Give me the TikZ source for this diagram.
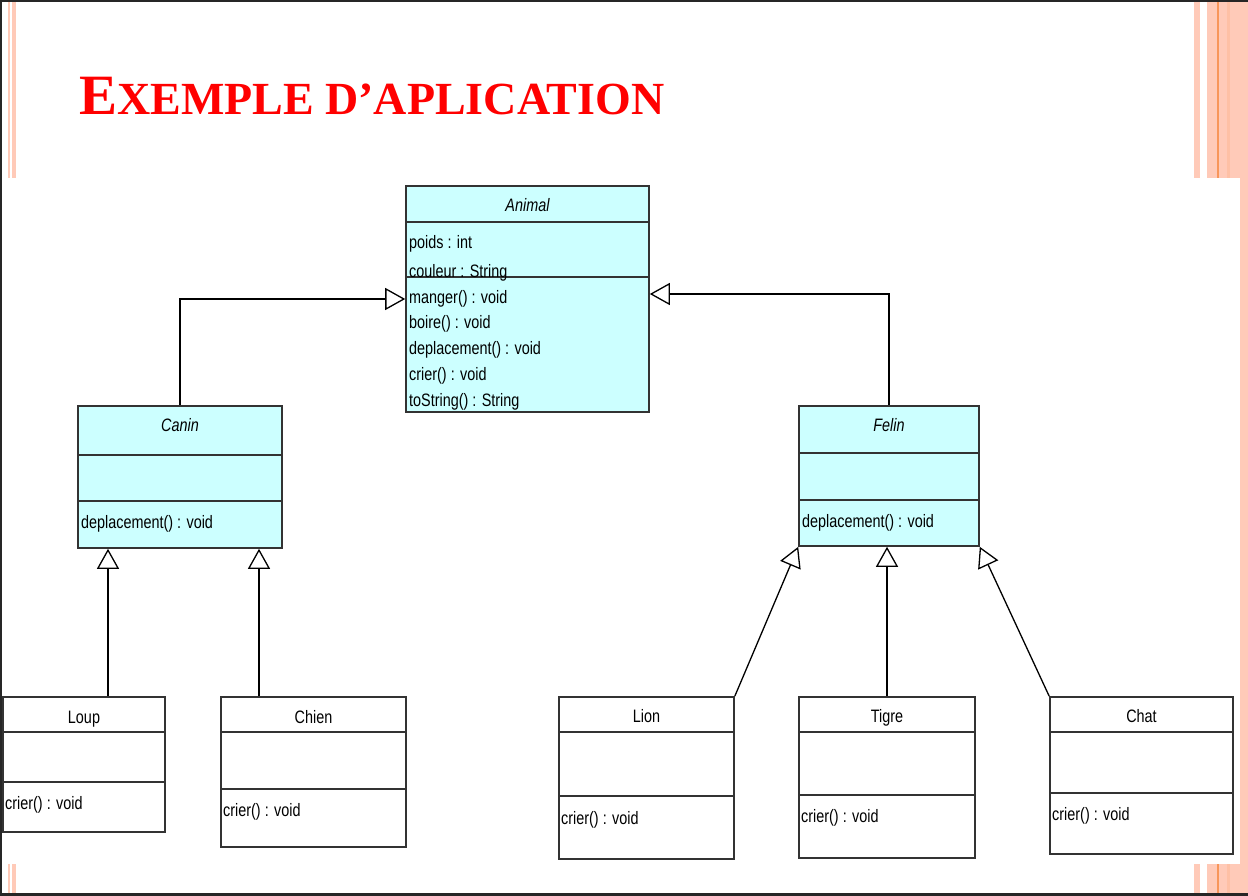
\documentclass[tikz,border=0pt]{standalone}
\usepackage{fontspec}
\setmainfont{Liberation Serif}
\newfontfamily\umlfont[FakeStretch=0.8]{Liberation Sans}
\usetikzlibrary{arrows.meta,positioning}
\definecolor{cyanUml}{RGB}{204,255,255}
\definecolor{roseDiapo}{RGB}{255,202,184}
\definecolor{orangeDiapo}{RGB}{248,150,90}
\definecolor{rougeTitre}{RGB}{255,0,0}

\begin{document}
\begin{tikzpicture}[x=1pt,y=-1pt,font=\umlfont\fontsize{18}{22}\selectfont,
  cls/.style={rectangle,draw=black!80,line width=1.6pt,fill=cyanUml,inner sep=0pt},
  clsw/.style={cls,fill=white},
  ttl/.style={anchor=base,inner sep=0pt},
  mem/.style={anchor=base west,inner sep=0pt},
  sep/.style={draw=black!80,line width=1.6pt},
  gen/.style={line width=1.3pt,-{Triangle[open,fill=white,length=20pt,width=22pt]}}]

  \useasboundingbox (0,0) rectangle (1248,896);

  % slide background
  \fill[black!85] (0,0) rectangle (1248,896);
  \fill[white] (2,2) rectangle (1248,893);
  \foreach \a/\b in {8/10,12/16,1194/1200,1207/1248}
    \fill[roseDiapo] (\a,2) rectangle (\b,893);
  \fill[roseDiapo!80!orangeDiapo] (1227,2) rectangle (1230,893);
  \fill[orangeDiapo] (1217,2) rectangle (1218.5,893);
  \fill[white] (2,178) rectangle (1240,864);

  \node[anchor=base west,inner sep=0pt,text=rougeTitre,font=\rmfamily\bfseries] (titre) at (79,115)
    {\fontsize{57}{60}\selectfont E\fontsize{46}{50}\selectfont XEMPLE D’APLICATION};

  % classes
  \node[cls,minimum width=243pt,minimum height=226pt] (animal) at (527.5,299) {};
  \node[cls,minimum width=204pt,minimum height=142pt] (canin)  at (180,477) {};
  \node[cls,minimum width=180pt,minimum height=140pt] (felin)  at (889,476) {};
  \node[clsw,minimum width=162pt,minimum height=135pt] (loup)  at (84,764.5) {};
  \node[clsw,minimum width=185pt,minimum height=150pt] (chien) at (313.5,772) {};
  \node[clsw,minimum width=175pt,minimum height=162pt] (lion)  at (646.5,778) {};
  \node[clsw,minimum width=176pt,minimum height=161pt] (tigre) at (887,777.5) {};
  \node[clsw,minimum width=183pt,minimum height=157pt] (chat)  at (1141.5,775.5) {};

  \foreach \n/\a/\b in {animal/37/92,canin/50/96,felin/48/95,loup/36/86,
                        chien/36/93,lion/36/100,tigre/36/99,chat/36/97}
    \draw[sep] ([yshift=-\a]\n.north west) -- ([yshift=-\a]\n.north east)
               ([yshift=-\b]\n.north west) -- ([yshift=-\b]\n.north east);

  % texts
  \node[ttl] (animal-t) at (527.5,212) {\itshape Animal};
  \node[mem] (animal-a1) at (409,249) {poids : int};
  \node[mem] (animal-a2) at (409,277) {couleur : String};
  \foreach \m [count=\i] in {{manger() : void},{boire() : void},{deplacement() : void},
                             {crier() : void},{toString() : String}}
    \node[mem] (animal-m\i) at (409,{277.25+25.75*\i}) {\m};

  \node[ttl] (canin-t) at (180,431) {\itshape Canin};
  \node[mem] (canin-m) at (81,528) {deplacement() : void};
  \node[ttl] (felin-t) at (889,431) {\itshape Felin};
  \node[mem] (felin-m) at (802,527) {deplacement() : void};

  \node[ttl] (loup-t)  at (84,723)     {Loup};
  \node[mem] (loup-m)  at (5,809)      {crier() : void};
  \node[ttl] (chien-t) at (313.5,723)  {Chien};
  \node[mem] (chien-m) at (223,816)    {crier() : void};
  \node[ttl] (lion-t)  at (646.5,722)  {Lion};
  \node[mem] (lion-m)  at (561,824)    {crier() : void};
  \node[ttl] (tigre-t) at (887,722)    {Tigre};
  \node[mem] (tigre-m) at (801,822)    {crier() : void};
  \node[ttl] (chat-t)  at (1141.5,722) {Chat};
  \node[mem] (chat-m)  at (1052,820)   {crier() : void};

  % generalisations
  \draw[gen] (canin.north) |- (animal.west);
  \draw[gen] (felin.north) |- ([yshift=5pt]animal.east);
  \draw[gen] ([xshift=24pt]loup.north) -- ([xshift=24pt]loup.north |- canin.south);
  \draw[gen] ([xshift=-54.5pt]chien.north) -- ([xshift=-54.5pt]chien.north |- canin.south);
  \draw[gen] (lion.north east) -- (felin.south west);
  \draw[gen] (tigre.north) -- (tigre.north |- felin.south);
  \draw[gen] (chat.north west) -- (felin.south east);
\end{tikzpicture}
\end{document}
